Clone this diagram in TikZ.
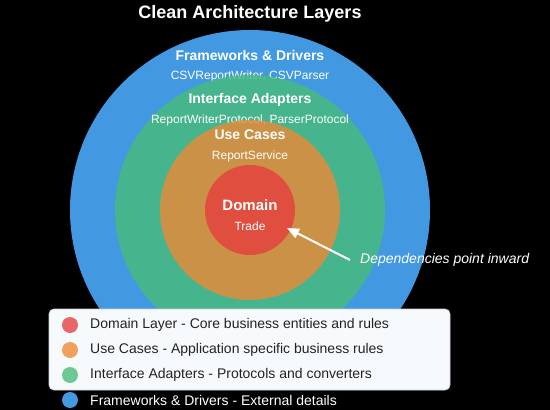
\documentclass[tikz,border=0pt]{standalone}
\usepackage{fontspec}
\setmainfont{Liberation Sans}
\usetikzlibrary{arrows.meta}
\definecolor{fwc}{HTML}{4299E1}
\definecolor{iac}{HTML}{48BB78}
\definecolor{ucc}{HTML}{ED8936}
\definecolor{dmc}{HTML}{E53E3E}
\definecolor{legbg}{HTML}{F7FAFC}
\definecolor{legbd}{HTML}{CBD5E0}
\definecolor{legtx}{HTML}{222222}
\tikzset{
  layer/.style={circle, inner sep=0pt, draw=none},
  ttl/.style={text=white, font=\bfseries\fontsize{14}{16}\selectfont, inner sep=0pt},
  sub/.style={text=white, font=\fontsize{12}{14}\selectfont, inner sep=0pt},
  dot/.style={circle, inner sep=0pt, minimum size=16pt},
  legtext/.style={anchor=west, text=legtx, font=\fontsize{14}{16}\selectfont, inner sep=0pt},
}
\begin{document}
\begin{tikzpicture}[x=1pt,y=-1pt]
\fill[black] (0,0) rectangle (550,410);
\useasboundingbox (0,0) rectangle (550,410);
\node[text=white, font=\bfseries\fontsize{18}{20}\selectfont, inner sep=0pt] (title) at (250,14) {Clean Architecture Layers};
% layers
\node[layer, fill=fwc, minimum size=360pt] (fw) at (250,210) {};
\node[ttl] (fwt) at (250,55) {Frameworks \& Drivers};
\node[sub] (fws) at (250,76) {CSVReportWriter, CSVParser};
\node[layer, fill=iac, fill opacity=0.8, minimum size=270pt] (ia) at (250,210) {};
\node[ttl] (iat) at (250,100) {Interface Adapters};
\node[sub] (ias) at (250,120) {ReportWriterProtocol, ParserProtocol};
\node[layer, fill=ucc, fill opacity=0.8, minimum size=180pt] (uc) at (250,210) {};
\node[ttl] (uct) at (250,135) {Use Cases};
\node[sub] (ucs) at (250,156) {ReportService};
\node[layer, fill=dmc, fill opacity=0.8, minimum size=90pt] (dm) at (250,210) {};
\node[ttl, font=\bfseries\fontsize{15}{17}\selectfont] (dmt) at (250,205) {Domain};
\node[sub] (dms) at (250,226) {Trade};
% arrow
\coordinate (tail) at (350,260);
\coordinate (tip) at (287,228);
\draw[white, line width=2pt, -{Triangle[length=12pt,width=10pt]}] (tail) -- (tip);
\node[anchor=west, text=white, font=\itshape\fontsize{14}{16}\selectfont, inner sep=0pt] (dep) at (360,260) {Dependencies point inward};
% legend
\node[draw=legbd, fill=legbg, rounded corners=5pt, minimum width=401pt, minimum height=81pt, inner sep=0pt, line width=0.8pt] (leg) at (249.5,349.5) {};
\node[dot, fill=dmc!80!white] (d1) at (70,325) {};
\node[legtext] (l1) at (90,325) {Domain Layer - Core business entities and rules};
\node[dot, fill=ucc!80!white] (d2) at (70,350) {};
\node[legtext] (l2) at (90,350) {Use Cases - Application specific business rules};
\node[dot, fill=iac!80!white] (d3) at (70,375) {};
\node[legtext] (l3) at (90,375) {Interface Adapters - Protocols and converters};
\node[dot, fill=fwc] (d4) at (70,400) {};
\node[legtext, text=white] (l4) at (90,400) {Frameworks \& Drivers - External details};
\end{tikzpicture}
\end{document}
